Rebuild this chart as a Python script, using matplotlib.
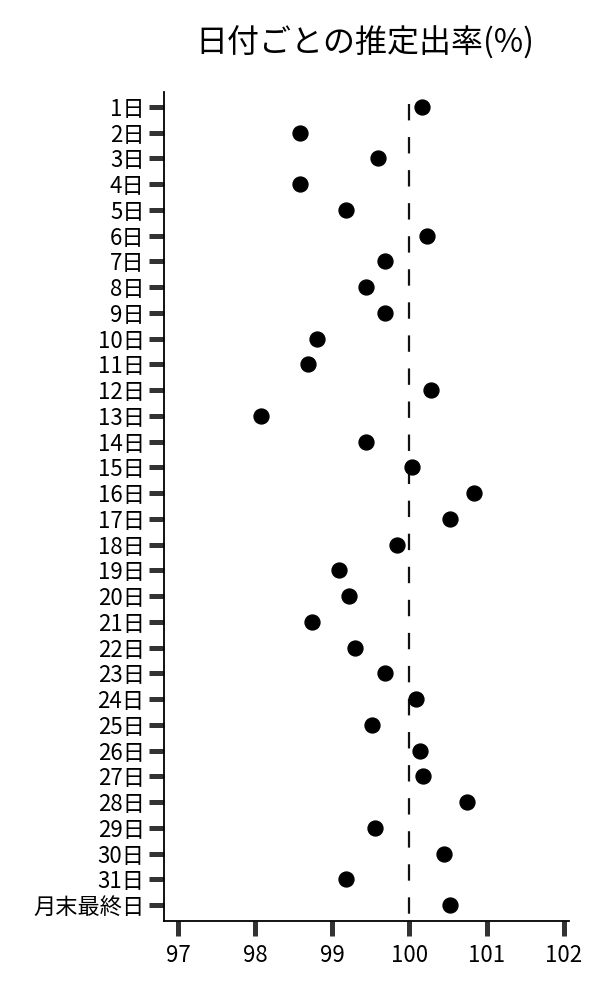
import numpy as np
import matplotlib
matplotlib.use("Agg")
import matplotlib.pyplot as plt

plt.rcParams['font.family'] = ['Noto Sans CJK JP', 'DejaVu Sans']
plt.rcParams['lines.scale_dashes'] = False

# データ
days = [f"{i}日" for i in range(1, 32)] + ["月末最終日"]
rates = [100.16, 98.58, 99.59, 98.58, 99.18, 100.23, 99.68, 99.44, 99.68, 98.80,
         98.69, 100.28, 98.07, 99.43, 100.03, 100.84, 100.52, 99.84, 99.09, 99.21,
         98.74, 99.29, 99.68, 100.09, 99.51, 100.14, 100.18, 100.74, 99.55, 100.45,
         99.18, 100.52]
ref_value = 100
x_ticks = [97, 98, 99, 100, 101, 102]
title = "日付ごとの推定出率(%)"

fig = plt.figure(figsize=(6, 10), dpi=100)
ax = fig.add_axes([0.2735, 0.0793, 0.675, 0.8287])

ypos = np.arange(len(days))
y_bottom = len(days) - 1 + 0.61
y_top = -0.58

ax.scatter(rates, ypos, s=115, color="black", zorder=3)
# 基準線（上から下へ描画）
ax.plot([ref_value, ref_value], [-0.12, y_bottom], color="#111111", lw=1.6,
        linestyle=(0, (11.8, 12.0)), zorder=2)

ax.set_yticks(ypos)
ax.set_yticklabels(days, fontsize=16)
ax.set_ylim(y_bottom, y_top)
ax.set_xlim(96.818, 102.07)
ax.set_xticks(x_ticks)
ax.set_xticklabels([str(t) for t in x_ticks], fontsize=16)

ax.tick_params(axis="both", length=11, width=3.6, color="#333333")
ax.tick_params(axis="y", pad=3)
ax.tick_params(axis="x", pad=6)

for s in ["top", "right"]:
    ax.spines[s].set_visible(False)
for s in ["left", "bottom"]:
    ax.spines[s].set_linewidth(1.3)
    ax.spines[s].set_color("black")

fig.text(0.608, 0.957, title, ha="center", va="center", fontsize=23)

fig.savefig("out.png", dpi=100)
